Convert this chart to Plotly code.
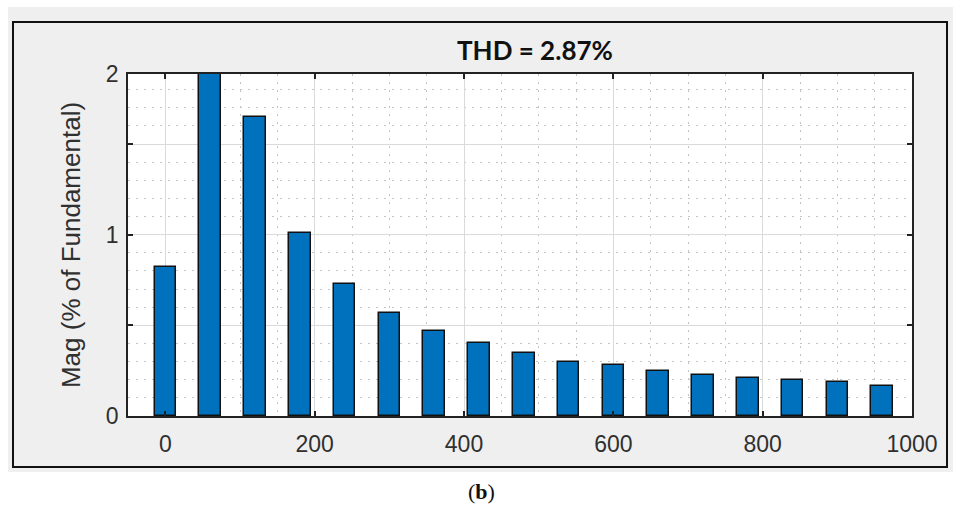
import plotly.graph_objects as go

# ---- data ----
harmonic_freq = [0, 60, 120, 180, 240, 300, 360, 420, 480, 540, 600, 660, 720, 780, 840, 900, 960]
magnitude_pct = [0.82, 2.00, 1.65, 1.01, 0.73, 0.57, 0.47, 0.40, 0.35, 0.30, 0.28, 0.25, 0.225, 0.21, 0.197, 0.185, 0.165]

x_tick_vals = [0, 200, 400, 600, 800, 1000]
x_tick_text = ["0", "200", "400", "600", "800", "1000"]
y_top = 1.886
y_tick_vals = [0, 0.5, 1, 1.5, y_top]
y_tick_text = ["0", "", "1", "", "2"]

title_text = "THD = 2.87%"
y_title = "Mag (% of Fundamental)"
panel_label = "(<b>b</b>)"

W, H = 962, 520
L, R, T, B = 128, 912, 74, 416
pw, ph = R - L, B - T


def px_x(p):
    return (p - L) / pw


def px_y(p):
    return (B - p) / ph


fig = go.Figure()
fig.add_trace(go.Bar(
    x=harmonic_freq, y=magnitude_pct, width=29,
    marker=dict(color="#0072BD", line=dict(color="#111111", width=1.5)),
    showlegend=False,
))

axis_font = dict(family="Liberation Sans, Arial, sans-serif", size=23, color="#303030")

fig.update_layout(
    width=W, height=H,
    margin=dict(l=L, r=W - R, t=T, b=H - B, pad=0),
    paper_bgcolor="white",
    plot_bgcolor="white",
    bargap=0,
    xaxis=dict(
        range=[-50, 1000], tickmode="array", tickvals=x_tick_vals, ticktext=x_tick_text,
        showline=True, linecolor="#222222", linewidth=1.5, mirror="allticks",
        ticks="inside", ticklen=5, tickcolor="#222222", tickwidth=1.5,
        showgrid=True, gridcolor="#dadada", gridwidth=1,
        zeroline=False, tickfont=axis_font, ticklabelstandoff=7,
        minor=dict(tickmode="linear", tick0=0, dtick=50, showgrid=True,
                   gridcolor="#c4c4c4", griddash="2px,6px", gridwidth=1, ticks=""),
        fixedrange=True,
    ),
    yaxis=dict(
        range=[0, y_top], tickmode="array", tickvals=y_tick_vals, ticktext=y_tick_text,
        showline=True, linecolor="#222222", linewidth=1.5, mirror="allticks",
        ticks="inside", ticklen=5, tickcolor="#222222", tickwidth=1.5,
        showgrid=True, gridcolor="#dadada", gridwidth=1,
        zeroline=False, tickfont=axis_font, ticklabelstandoff=3,
        title=dict(text=y_title, font=dict(family="Liberation Sans, Arial, sans-serif", size=26, color="#303030"), standoff=18),
        minor=dict(tickmode="linear", tick0=0, dtick=0.1, showgrid=True,
                   gridcolor="#c4c4c4", griddash="2px,6px", gridwidth=1, ticks=""),
        fixedrange=True,
    ),
    shapes=[
        dict(type="rect", xref="paper", yref="paper", layer="below",
             x0=px_x(8), x1=px_x(953), y0=px_y(472), y1=px_y(7),
             fillcolor="#efefef", line=dict(width=0)),
        dict(type="rect", xref="paper", yref="paper", layer="below",
             x0=px_x(13), x1=px_x(947), y0=px_y(467), y1=px_y(22),
             fillcolor="rgba(0,0,0,0)", line=dict(color="#111111", width=2)),
        dict(type="rect", xref="paper", yref="paper", layer="below",
             x0=0, x1=1, y0=0, y1=1,
             fillcolor="white", line=dict(width=0)),
    ],
    annotations=[
        dict(text="<b>" + title_text + "</b>", xref="paper", yref="paper",
             x=px_x(535), y=px_y(50), xanchor="center", yanchor="middle", showarrow=False,
             font=dict(family="Lato, Open Sans, sans-serif", size=26, color="#111111")),
        dict(text=panel_label, xref="paper", yref="paper",
             x=px_x(481), y=px_y(491), xanchor="center", yanchor="middle", showarrow=False,
             font=dict(family="Liberation Serif, DejaVu Serif, serif", size=22, color="#111111")),
    ],
)

fig.write_html(
    "out.html",
    config={"displayModeBar": False},
    post_script="document.body.style.margin='0';document.body.style.overflow='hidden';",
)
